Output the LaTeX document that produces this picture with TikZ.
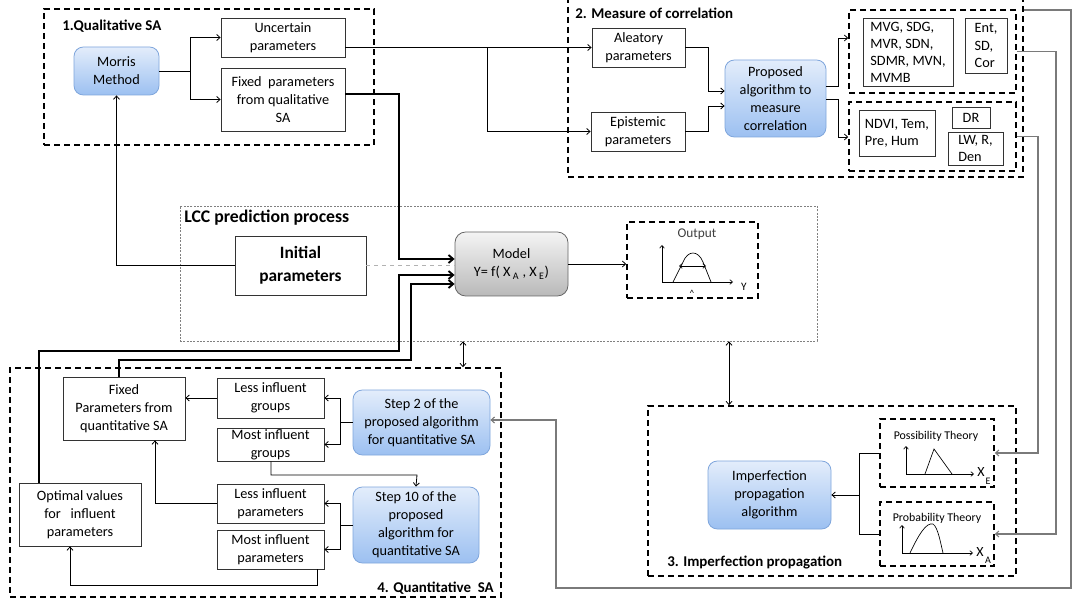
\documentclass[tikz,border=0pt]{standalone}
\usepackage{fontspec}
\setmainfont{Carlito}
\usetikzlibrary{arrows.meta,fit,calc}
\definecolor{bluetop}{HTML}{E3EDFB}
\definecolor{bluebot}{HTML}{9CC0F1}
\definecolor{blueborder}{HTML}{7FA6DC}
\definecolor{modeltop}{HTML}{F4F4F4}
\definecolor{modelbot}{HTML}{B9B9B9}
\definecolor{gline}{HTML}{7A7A7A}
\newcommand\fs{\fontsize{10.7}{13.5}\selectfont}
\newcommand\fst{\fontsize{10.7}{12.8}\selectfont}
% box by pixel corners: name, x1, y1, x2, y2, style, text
\newcommand\bx[7]{\node[#6, minimum width={((#4)-(#2))*0.75pt}, minimum height={((#5)-(#3))*0.75pt}] (#1) at ({((#2)+(#4))/2},{((#3)+(#5))/2}) {#7};}
\tikzset{
  box/.style={draw=black!80, line width=0.6pt, fill=white, inner sep=0pt, align=center, font=\fs},
  bluebox/.style={draw=blueborder, line width=0.6pt, rounded corners=7pt, top color=bluetop, bottom color=bluebot, inner sep=0pt, align=center, font=\fs},
  modelbox/.style={draw=black!60, line width=0.6pt, rounded corners=8pt, top color=modeltop, bottom color=modelbot, inner sep=0pt, align=center, font=\fs},
  grp/.style={draw=black, line width=1.2pt, dash pattern=on 4.5pt off 3pt, inner sep=0pt},
  lccgrp/.style={draw=gray, line width=0.6pt, dash pattern=on 1.5pt off 1pt, inner sep=0pt},
  arr/.style={-{Straight Barb[length=2.5pt,width=4.5pt]}, line width=0.6pt},
  darr/.style={{Straight Barb[length=2.5pt,width=4.5pt]}-{Straight Barb[length=2.5pt,width=4.5pt]}, line width=0.6pt},
  thk/.style={line width=1.4pt, -{Straight Barb[length=3.5pt,width=6pt]}},
  gl/.style={draw=gline, line width=0.8pt, -{Straight Barb[length=2.5pt,width=4.5pt]}},
  ttl/.style={font=\bfseries\fontsize{11.2}{13}\selectfont, inner sep=0pt},
  ax/.style={line width=0.5pt, -{Straight Barb[length=2pt,width=3.5pt]}},
}
\begin{document}
\begin{tikzpicture}[x=0.75pt,y=-0.75pt]
\useasboundingbox (0,0) rectangle (1078,602);
\fill[white] (0,0) rectangle (1078,602);

% ---------- group frames ----------
\node[grp, fit={(44,9)(374,145)}] (g1) {};
\node[grp, fit={(568,-8)(1023,177)}] (g2) {};
\node[grp, fit={(849,10)(1016,93)}] (ga) {};
\node[grp, fit={(849,102)(1016,171)}] (gb) {};
\node[lccgrp, fit={(180,206)(817,341)}] (lcc) {};
\node[grp, fit={(627,222)(758,298)}] (out) {};
\node[grp, fit={(648,406)(1016,576)}] (g3) {};
\node[grp, fit={(880,419)(994,487)}] (poss) {};
\node[grp, fit={(880,502)(994,566)}] (prob) {};
\node[grp, fit={(10,368)(501,597)}] (g4) {};

% ---------- titles ----------
\node[ttl, anchor=west] (t1) at (62,26) {1.Qualitative SA};
\node[ttl, anchor=west] (t2) at (575,13) {2. Measure of correlation};
\node[ttl, anchor=west, font=\bfseries\fontsize{13.3}{15}\selectfont] (tl) at (184,218) {LCC prediction process};
\node[ttl, anchor=west] (t3) at (667,563) {3. Imperfection propagation};
\node[ttl, anchor=east] (t4) at (494,588) {4. Quantitative~~SA};

% ---------- 1. qualitative SA ----------
\bx{morris}{74}{47}{159}{95}{bluebox}{Morris\\Method}
\bx{unc}{221}{18}{345}{57}{box}{Uncertain\\parameters}
\bx{fixq}{221}{68}{345}{131}{box}{Fixed~~parameters\\from qualitative\\SA}

% ---------- 2. measure of correlation ----------
\bx{ale}{592}{28}{685}{67}{box}{Aleatory\\parameters}
\bx{epi}{591}{112}{685}{151}{box}{Epistemic\\parameters}
\bx{prop}{725}{60}{826}{137}{bluebox}{Proposed\\algorithm to\\measure\\correlation}
\bx{mvg}{863}{18}{953}{86}{box, align=left, font=\fst}{MVG, SDG,\\MVR, SDN,\\SDMR, MVN,\\MVMB}
\bx{ent}{965}{18}{1007}{73}{box, align=left, font=\fst}{Ent,\\SD,\\Cor}
\bx{ndvi}{859}{110}{935}{156}{box, align=left, font=\fst}{NDVI, Tem,\\Pre, Hum}
\bx{dr}{952}{107}{990}{128}{box}{DR}
\bx{lw}{948}{132}{1003}{165}{box, align=left, font=\fst}{LW, R,\\Den}

% ---------- LCC prediction ----------
\bx{init}{235}{236}{366}{295}{box, font=\bfseries\fontsize{13}{17.5}\selectfont}{Initial\\parameters}
\bx{model}{455}{232}{568}{296}{modelbox}{Model\\Y= f( X\,\textsubscript{A} , X\,\textsubscript{E})}

% output plot
\node[font=\fontsize{10}{11}\selectfont, text=black!75] (outl) at (697,234) {Output};
\draw[ax] (662,282) -- (662,245);
\draw[ax] (662,282) -- (733,282);
\draw[line width=0.5pt] (673,282) -- (683,262) .. controls (688,250) and (698,250) .. (703,262) -- (711,282);
\draw[line width=0.5pt, {Straight Barb[length=2pt,width=3.5pt]}-{Straight Barb[length=2pt,width=3.5pt]}] (679,266) -- (706,266);
\node[font=\fontsize{7}{8}\selectfont, inner sep=0pt] (hat) at (692,293) {\textasciicircum};
\node[font=\fontsize{8.5}{9}\selectfont, inner sep=0pt] (ylab) at (744,287) {Y};

% ---------- 3. imperfection propagation ----------
\bx{imp}{708}{461}{831}{529}{bluebox}{Imperfection\\propagation\\algorithm}
\node[font=\fontsize{8.9}{10}\selectfont, inner sep=0pt] (possl) at (936,436) {Possibility Theory};
\draw[ax] (906,474) -- (906,446);
\draw[ax] (906,474) -- (974,474);
\draw[line width=0.5pt] (925,474) -- (934,449) -- (952,474);
\node[font=\fontsize{10.5}{11}\selectfont, inner sep=0pt] (xe) at (981,472) {X};
\node[font=\fontsize{7.5}{8}\selectfont, inner sep=0pt] (xes) at (988,481) {E};
\node[font=\fontsize{8.9}{10}\selectfont, inner sep=0pt] (probl) at (937,518) {Probability Theory};
\draw[ax] (902,553) -- (902,525);
\draw[ax] (902,553) -- (973,553);
\draw[line width=0.5pt] (910,553) .. controls (918,536) and (926,522) .. (933,524) .. controls (938,527) and (941,545) .. (943,553);
\node[font=\fontsize{10.5}{11}\selectfont, inner sep=0pt] (xa) at (980,552) {X};
\node[font=\fontsize{7.5}{8}\selectfont, inner sep=0pt] (xas) at (988,560) {A};

% ---------- 4. quantitative SA ----------
\bx{fixp}{63}{377}{185}{440}{box}{Fixed\\Parameters from\\quantitative SA}
\bx{opt}{19}{483}{141}{546}{box}{Optimal values\\for~~~influent\\parameters}
\bx{lig}{217}{378}{324}{418}{box}{Less influent\\groups}
\bx{mig}{217}{428}{324}{461}{box}{Most influent\\groups}
\bx{lip}{217}{484}{324}{523}{box}{Less influent\\parameters}
\bx{mip}{217}{530}{324}{569}{box}{Most influent\\parameters}
\bx{step2}{353}{390}{490}{455}{bluebox}{Step 2 of the\\proposed algorithm\\for quantitative SA}
\bx{step10}{353}{487}{479}{563}{bluebox}{Step 10 of the\\proposed\\algorithm for\\quantitative SA}

% ---------- connectors ----------
% group 1
\draw[line width=0.6pt] (morris.east) -- (190,71);
\draw[arr] (190,71) |- (unc.west);
\draw[arr] (190,71) |- (fixq.west);
\draw[arr] (init.west) -| (morris.south);
% uncertain -> aleatory / epistemic
\draw[arr] (unc.east |- ale.west) -- (ale.west);
\draw[arr] (487,47.5) |- (epi.west);
\draw[arr] (ale.east) -| (708,91) -- (prop.west |- 0,91);
\draw[arr] (epi.east) -| (708,106) -- (prop.west |- 0,106);
\draw[arr] (prop.east |- 0,86) -| (838,38) -- (ga.west |- 0,38);
\draw[arr] (prop.east |- 0,99) -| (838,137) -- (gb.west |- 0,137);
% right side grey lines
\draw[gl] (g2.east |- 0,10) -| (1071,588) -| (556,420) -- (step2.east |- 0,420);
\draw[gl] (ga.east) -| (1056,534) -- (prob.east |- 0,534);
\draw[gl] (gb.east) -| (1038,453) -- (poss.east |- 0,453);
% imperfection
\draw[line width=0.6pt] (poss.west) -| (859,534) -- (prob.west |- 0,534);
\draw[arr] (859,495) -- (imp.east);
% LCC
\draw[thk] (fixq.east |- 0,94) -| (399,259) -- (model.west |- 0,259);
\draw[thk] (opt.north -| 39,0) |- (399,351) |- (model.west |- 0,275);
\draw[thk] (fixp.north -| 119,0) |- (411,360) |- (model.west |- 0,284);
\draw[dashed, draw=black!30, line width=0.5pt] (init.east) -- (init.east -| model.west);
\draw[arr] (model.east) -- (model.east -| out.west);
\draw[darr] (lcc.south -| 463,0) -- (g4.north -| 463,0);
\draw[darr] (lcc.south -| 729,0) -- (g3.north -| 729,0);
% group 4
\draw[line width=0.6pt] (step2.west) -- (340,422.5);
\draw[arr] (340,422.5) |- (lig.east);
\draw[arr] (340,422.5) |- (mig.east);
\draw[line width=0.6pt] (step10.west) -- (340,525);
\draw[arr] (340,525) |- (lip.east);
\draw[arr] (340,525) |- (mip.east);
\draw[arr] (mig.south -| 271,0) |- (417,475) -- (step10.north);
\draw[arr] (lig.west) -- (lig.west -| fixp.east);
\draw[arr] (lip.west) -| (fixp.south -| 155,0);
\draw[arr] (mip.south -| 317,0) |- (70,585) -- (opt.south -| 70,0);
\end{tikzpicture}
\end{document}
